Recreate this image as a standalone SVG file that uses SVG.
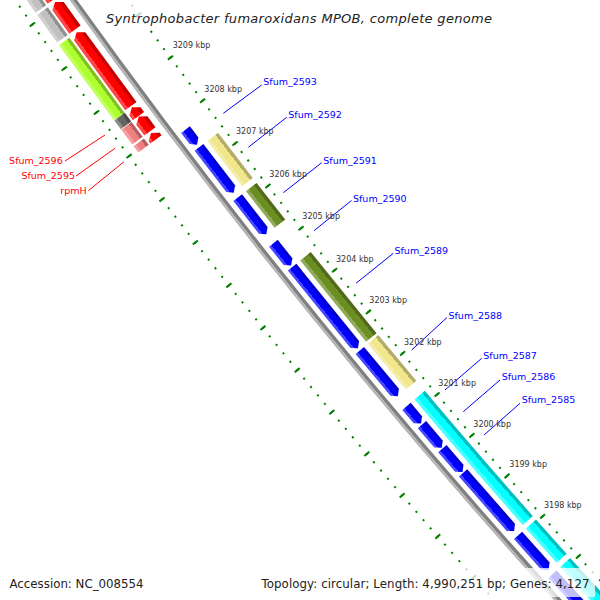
<svg xmlns="http://www.w3.org/2000/svg" width="600" height="600" viewBox="0 0 600 600">
<defs>
<linearGradient id="gBlue" x1="0" y1="0" x2="0" y2="1"><stop offset="0" stop-color="#0000c8"/><stop offset="0.25" stop-color="#0000c8"/><stop offset="0.25" stop-color="#0000ff"/><stop offset="0.75" stop-color="#0000ff"/><stop offset="0.75" stop-color="#4646ff"/><stop offset="1" stop-color="#4646ff"/></linearGradient>
<linearGradient id="gRed" x1="0" y1="0" x2="0" y2="1"><stop offset="0" stop-color="#c80000"/><stop offset="0.25" stop-color="#c80000"/><stop offset="0.25" stop-color="#ff0000"/><stop offset="0.75" stop-color="#ff0000"/><stop offset="0.75" stop-color="#ff4646"/><stop offset="1" stop-color="#ff4646"/></linearGradient>
<linearGradient id="gKhaki" x1="0" y1="0" x2="0" y2="1"><stop offset="0" stop-color="#b4ad69"/><stop offset="0.25" stop-color="#b4ad69"/><stop offset="0.25" stop-color="#f0e68c"/><stop offset="0.75" stop-color="#f0e68c"/><stop offset="0.75" stop-color="#f4eca9"/><stop offset="1" stop-color="#f4eca9"/></linearGradient>
<linearGradient id="gOlive" x1="0" y1="0" x2="0" y2="1"><stop offset="0" stop-color="#50691a"/><stop offset="0.25" stop-color="#50691a"/><stop offset="0.25" stop-color="#6b8e23"/><stop offset="0.75" stop-color="#6b8e23"/><stop offset="0.75" stop-color="#90aa5a"/><stop offset="1" stop-color="#90aa5a"/></linearGradient>
<linearGradient id="gCyan" x1="0" y1="0" x2="0" y2="1"><stop offset="0" stop-color="#00c0c0"/><stop offset="0.25" stop-color="#00c0c0"/><stop offset="0.25" stop-color="#00ffff"/><stop offset="0.75" stop-color="#00ffff"/><stop offset="0.75" stop-color="#46ffff"/><stop offset="1" stop-color="#46ffff"/></linearGradient>
<linearGradient id="gLime" x1="0" y1="0" x2="0" y2="1"><stop offset="0" stop-color="#82bf23"/><stop offset="0.25" stop-color="#82bf23"/><stop offset="0.25" stop-color="#adff2f"/><stop offset="0.75" stop-color="#adff2f"/><stop offset="0.75" stop-color="#c2ff63"/><stop offset="1" stop-color="#c2ff63"/></linearGradient>
<linearGradient id="gLgray" x1="0" y1="0" x2="0" y2="1"><stop offset="0" stop-color="#909090"/><stop offset="0.25" stop-color="#909090"/><stop offset="0.25" stop-color="#c0c0c0"/><stop offset="0.75" stop-color="#c0c0c0"/><stop offset="0.75" stop-color="#d0d0d0"/><stop offset="1" stop-color="#d0d0d0"/></linearGradient>
<linearGradient id="gDgray" x1="0" y1="0" x2="0" y2="1"><stop offset="0" stop-color="#4b4b4b"/><stop offset="0.25" stop-color="#4b4b4b"/><stop offset="0.25" stop-color="#646464"/><stop offset="0.75" stop-color="#646464"/><stop offset="0.75" stop-color="#8b8b8b"/><stop offset="1" stop-color="#8b8b8b"/></linearGradient>
<linearGradient id="gPink" x1="0" y1="0" x2="0" y2="1"><stop offset="0" stop-color="#b46060"/><stop offset="0.25" stop-color="#b46060"/><stop offset="0.25" stop-color="#f08080"/><stop offset="0.75" stop-color="#f08080"/><stop offset="0.75" stop-color="#f4a0a0"/><stop offset="1" stop-color="#f4a0a0"/></linearGradient>
</defs>
<style>
.tk{fill:none;stroke:#008000}
.bb{fill:none}
.lbl{font-family:"DejaVu Sans",sans-serif;font-size:9.5px}
.fw{fill:#0000ff}
.rv{fill:#ff0000}
.kb{font-family:"DejaVu Sans",sans-serif;font-size:8px;fill:#333}
.cw{stroke:#0000ff;stroke-width:1}
.cr{stroke:#ff0000;stroke-width:1}
.box{fill:#fff;fill-opacity:0.75}
.info{font-family:"DejaVu Sans",sans-serif;font-size:11.8px;fill:#222}
</style>
<rect width="600" height="600" fill="#fff"/>
<g id="map" transform="translate(275.1 268.7) rotate(51.5)">
<g id="ruler">
<path class="tk" d="M-391.22 -56.92A6704.5 6704.5 0 0 0 521.04 -65.77" stroke-width="2" stroke-dasharray="2 8.741" stroke-dashoffset="1"/>
<path class="tk" d="M-391.22 -56.92A6704.5 6704.5 0 0 0 521.04 -65.77" stroke-width="6.5" stroke-dasharray="2 51.706" stroke-dashoffset="1"/>
<path class="tk" d="M-396.59 34.92A6796.5 6796.5 0 0 0 528.19 25.95" stroke-width="2" stroke-dasharray="2 8.889" stroke-dashoffset="1"/>
<path class="tk" d="M-396.59 34.92A6796.5 6796.5 0 0 0 528.19 25.95" stroke-width="6.5" stroke-dasharray="2 52.443" stroke-dashoffset="1"/>
</g>
<g id="backbone">
<path class="bb" d="M-393.75 -13.75A6747.75 6747.75 0 0 0 524.4 -22.66" stroke="#808080" stroke-width="3.5"/>
<path class="bb" d="M-393.92 -10.75A6750.75 6750.75 0 0 0 524.63 -19.66" stroke="#b4b4b4" stroke-width="2.5"/>
</g>
<g id="features">
<g id="gene_r0" transform="rotate(3.2595 0 -6750) translate(384 0)">
<path d="M-420 15L-415 8H-348V22H-415Z" fill="url(#gRed)"/>
<rect x="-420" y="24" width="72.5" height="13" fill="url(#gLgray)"/>
</g>
<g id="gene_r1" transform="rotate(2.7842 0 -6750) translate(328 0)">
<path d="M-345 15L-340 8H-311V22H-340Z" fill="url(#gRed)"/>
<rect x="-345" y="24" width="34" height="13" fill="url(#gLgray)"/>
</g>
<g id="gene_r2" transform="rotate(2.2239 0 -6750) translate(262 0)">
<path d="M-308 15L-303 8H-216.5V22H-303Z" fill="url(#gRed)"/>
<rect x="-308" y="24" width="93" height="13" fill="url(#gLime)"/>
</g>
<g id="Sfum_2596" transform="rotate(1.7783 0 -6750) translate(209.5 0)">
<path d="M-215 15L-210 8H-204V22H-210Z" fill="url(#gRed)"/>
<rect x="-215" y="24" width="11" height="13" fill="url(#gDgray)"/>
</g>
<g id="Sfum_2595" transform="rotate(1.6488 0 -6750) translate(194.25 0)">
<path d="M-203.5 15L-198.5 8H-185V22H-198.5Z" fill="url(#gRed)"/>
<rect x="-203.5" y="24" width="18.5" height="13" fill="url(#gPink)"/>
</g>
<g id="rpmH" transform="rotate(1.5194 0 -6750) translate(179 0)">
<path d="M-183 15L-178 8H-175V22H-178Z" fill="url(#gRed)"/>
<rect x="-183" y="24" width="8" height="13" fill="url(#gPink)"/>
</g>
<g id="Sfum_2593" transform="rotate(1.3199 0 -6750) translate(155.5 0)">
<path d="M-165 -20H-151L-146 -14.5L-151 -9H-165Z" fill="url(#gBlue)"/>
</g>
<g id="Sfum_2592" transform="rotate(0.9677 0 -6750) translate(114 0)">
<path d="M-142.5 -20H-90.5L-85.5 -14.5L-90.5 -9H-142.5Z" fill="url(#gBlue)"/>
<rect x="-142.5" y="-38.5" width="57" height="13.5" fill="url(#gKhaki)"/>
</g>
<g id="Sfum_2591" transform="rotate(0.4732 0 -6750) translate(55.75 0)">
<path d="M-79 -20H-37.5L-32.5 -14.5L-37.5 -9H-79Z" fill="url(#gBlue)"/>
<rect x="-79" y="-38.5" width="46.5" height="13.5" fill="url(#gOlive)"/>
</g>
<g id="Sfum_2590" transform="rotate(0.0573 0 -6750) translate(6.75 0)">
<path d="M-21 -20H2.5L7.5 -14.5L2.5 -9H-21Z" fill="url(#gBlue)"/>
</g>
<g id="Sfum_2589" transform="rotate(-0.5242 0 -6750) translate(-61.75 0)">
<path d="M9.5 -20H109L114 -14.5L109 -9H9.5Z" fill="url(#gBlue)"/>
<rect x="9.5" y="-38.5" width="104.5" height="13.5" fill="url(#gOlive)"/>
</g>
<g id="Sfum_2588" transform="rotate(-1.2456 0 -6750) translate(-146.75 0)">
<path d="M117 -20H171.5L176.5 -14.5L171.5 -9H117Z" fill="url(#gBlue)"/>
<rect x="117" y="-38.5" width="59.5" height="13.5" fill="url(#gKhaki)"/>
</g>
<g id="Sfum_2587" transform="rotate(-1.7104 0 -6750) translate(-201.5 0)">
<path d="M190 -20H207.5L212.5 -14.5L207.5 -9H190Z" fill="url(#gBlue)"/>
<rect x="190" y="-38.5" width="23.3" height="13.5" fill="url(#gCyan)"/>
</g>
<g id="Sfum_2586" transform="rotate(-1.9481 0 -6750) translate(-229.5 0)">
<path d="M214 -20H239.5L244.5 -14.5L239.5 -9H214Z" fill="url(#gBlue)"/>
<rect x="213" y="-38.5" width="32.3" height="13.5" fill="url(#gCyan)"/>
</g>
<g id="Sfum_2585" transform="rotate(-2.2154 0 -6750) translate(-261 0)">
<path d="M245.5 -20H271.5L276.5 -14.5L271.5 -9H245.5Z" fill="url(#gBlue)"/>
<rect x="245" y="-38.5" width="32.3" height="13.5" fill="url(#gCyan)"/>
</g>
<g id="gene_b10" transform="rotate(-2.6865 0 -6750) translate(-316.5 0)">
<path d="M277.5 -20H350L355 -14.5L350 -9H277.5Z" fill="url(#gBlue)"/>
<rect x="277" y="-38.5" width="79" height="13.5" fill="url(#gCyan)"/>
</g>
<g id="gene_b11" transform="rotate(-3.2595 0 -6750) translate(-384 0)">
<path d="M361 -20H402L407 -14.5L402 -9H361Z" fill="url(#gBlue)"/>
<rect x="361" y="-38.5" width="46" height="13.5" fill="url(#gCyan)"/>
</g>
<g id="gene_b12" transform="rotate(-3.9598 0 -6750) translate(-466.5 0)">
<path d="M413 -20H515L520 -14.5L515 -9H413Z" fill="url(#gBlue)"/>
<rect x="413" y="-38.5" width="107" height="13.5" fill="url(#gCyan)"/>
</g>
</g>
</g>
<g id="connectors">
<line class="cw" x1="261.7" y1="85" x2="223.3" y2="113.3"/>
<line class="cw" x1="286.7" y1="117.3" x2="248.3" y2="147.3"/>
<line class="cw" x1="321.7" y1="162.7" x2="283.3" y2="192.7"/>
<line class="cw" x1="351.5" y1="200.5" x2="314" y2="230.7"/>
<line class="cw" x1="393.3" y1="253.3" x2="356" y2="283.3"/>
<line class="cw" x1="447" y1="317.5" x2="411.7" y2="350"/>
<line class="cw" x1="481.7" y1="358.3" x2="445" y2="390"/>
<line class="cw" x1="500" y1="380" x2="463.3" y2="411.7"/>
<line class="cw" x1="520" y1="403.3" x2="484" y2="435"/>
<line class="cr" x1="65" y1="161" x2="105" y2="135"/>
<line class="cr" x1="76" y1="176" x2="115" y2="148.3"/>
<line class="cr" x1="88.3" y1="190.7" x2="124" y2="161.7"/>
</g>
<g id="labels">
<text class="lbl fw" x="263.3" y="85.2">Sfum_2593</text>
<text class="lbl fw" x="288.3" y="117.8">Sfum_2592</text>
<text class="lbl fw" x="323.3" y="163.5">Sfum_2591</text>
<text class="lbl fw" x="353" y="201.5">Sfum_2590</text>
<text class="lbl fw" x="394.5" y="253.5">Sfum_2589</text>
<text class="lbl fw" x="448.5" y="318.5">Sfum_2588</text>
<text class="lbl fw" x="483.3" y="359">Sfum_2587</text>
<text class="lbl fw" x="501.7" y="380">Sfum_2586</text>
<text class="lbl fw" x="521.7" y="403">Sfum_2585</text>
<text class="lbl rv" x="62.7" y="163.5" text-anchor="end">Sfum_2596</text>
<text class="lbl rv" x="75" y="178.8" text-anchor="end">Sfum_2595</text>
<text class="lbl rv" x="86.7" y="194" text-anchor="end">rpmH</text>
</g>
<g id="ticklabels">
<text class="kb" x="172.7" y="48">3209 kbp</text>
<text class="kb" x="204.3" y="91.5">3208 kbp</text>
<text class="kb" x="236" y="134">3207 kbp</text>
<text class="kb" x="269.3" y="176.5">3206 kbp</text>
<text class="kb" x="302.3" y="219">3205 kbp</text>
<text class="kb" x="336" y="262">3204 kbp</text>
<text class="kb" x="369.3" y="303">3203 kbp</text>
<text class="kb" x="404" y="344.5">3202 kbp</text>
<text class="kb" x="438.3" y="385.5">3201 kbp</text>
<text class="kb" x="473.3" y="426.5">3200 kbp</text>
<text class="kb" x="509.3" y="467">3199 kbp</text>
<text class="kb" x="544" y="507.5">3198 kbp</text>
</g>
<g id="title">
<rect class="box" x="101" y="0" width="397" height="29"/>
<text x="106" y="23" font-family="DejaVu Sans, sans-serif" font-style="italic" font-size="13" fill="#222" textLength="386" lengthAdjust="spacing">Syntrophobacter fumaroxidans MPOB, complete genome</text>
</g>
<g id="legend">
<rect class="box" x="4" y="568" width="145" height="29"/>
<rect class="box" x="256" y="568" width="339" height="29"/>
<text class="info" x="9.5" y="588">Accession: NC_008554</text>
<text class="info" x="261.5" y="588" textLength="328" lengthAdjust="spacing">Topology: circular; Length: 4,990,251 bp; Genes: 4,127</text>
</g>
</svg>
